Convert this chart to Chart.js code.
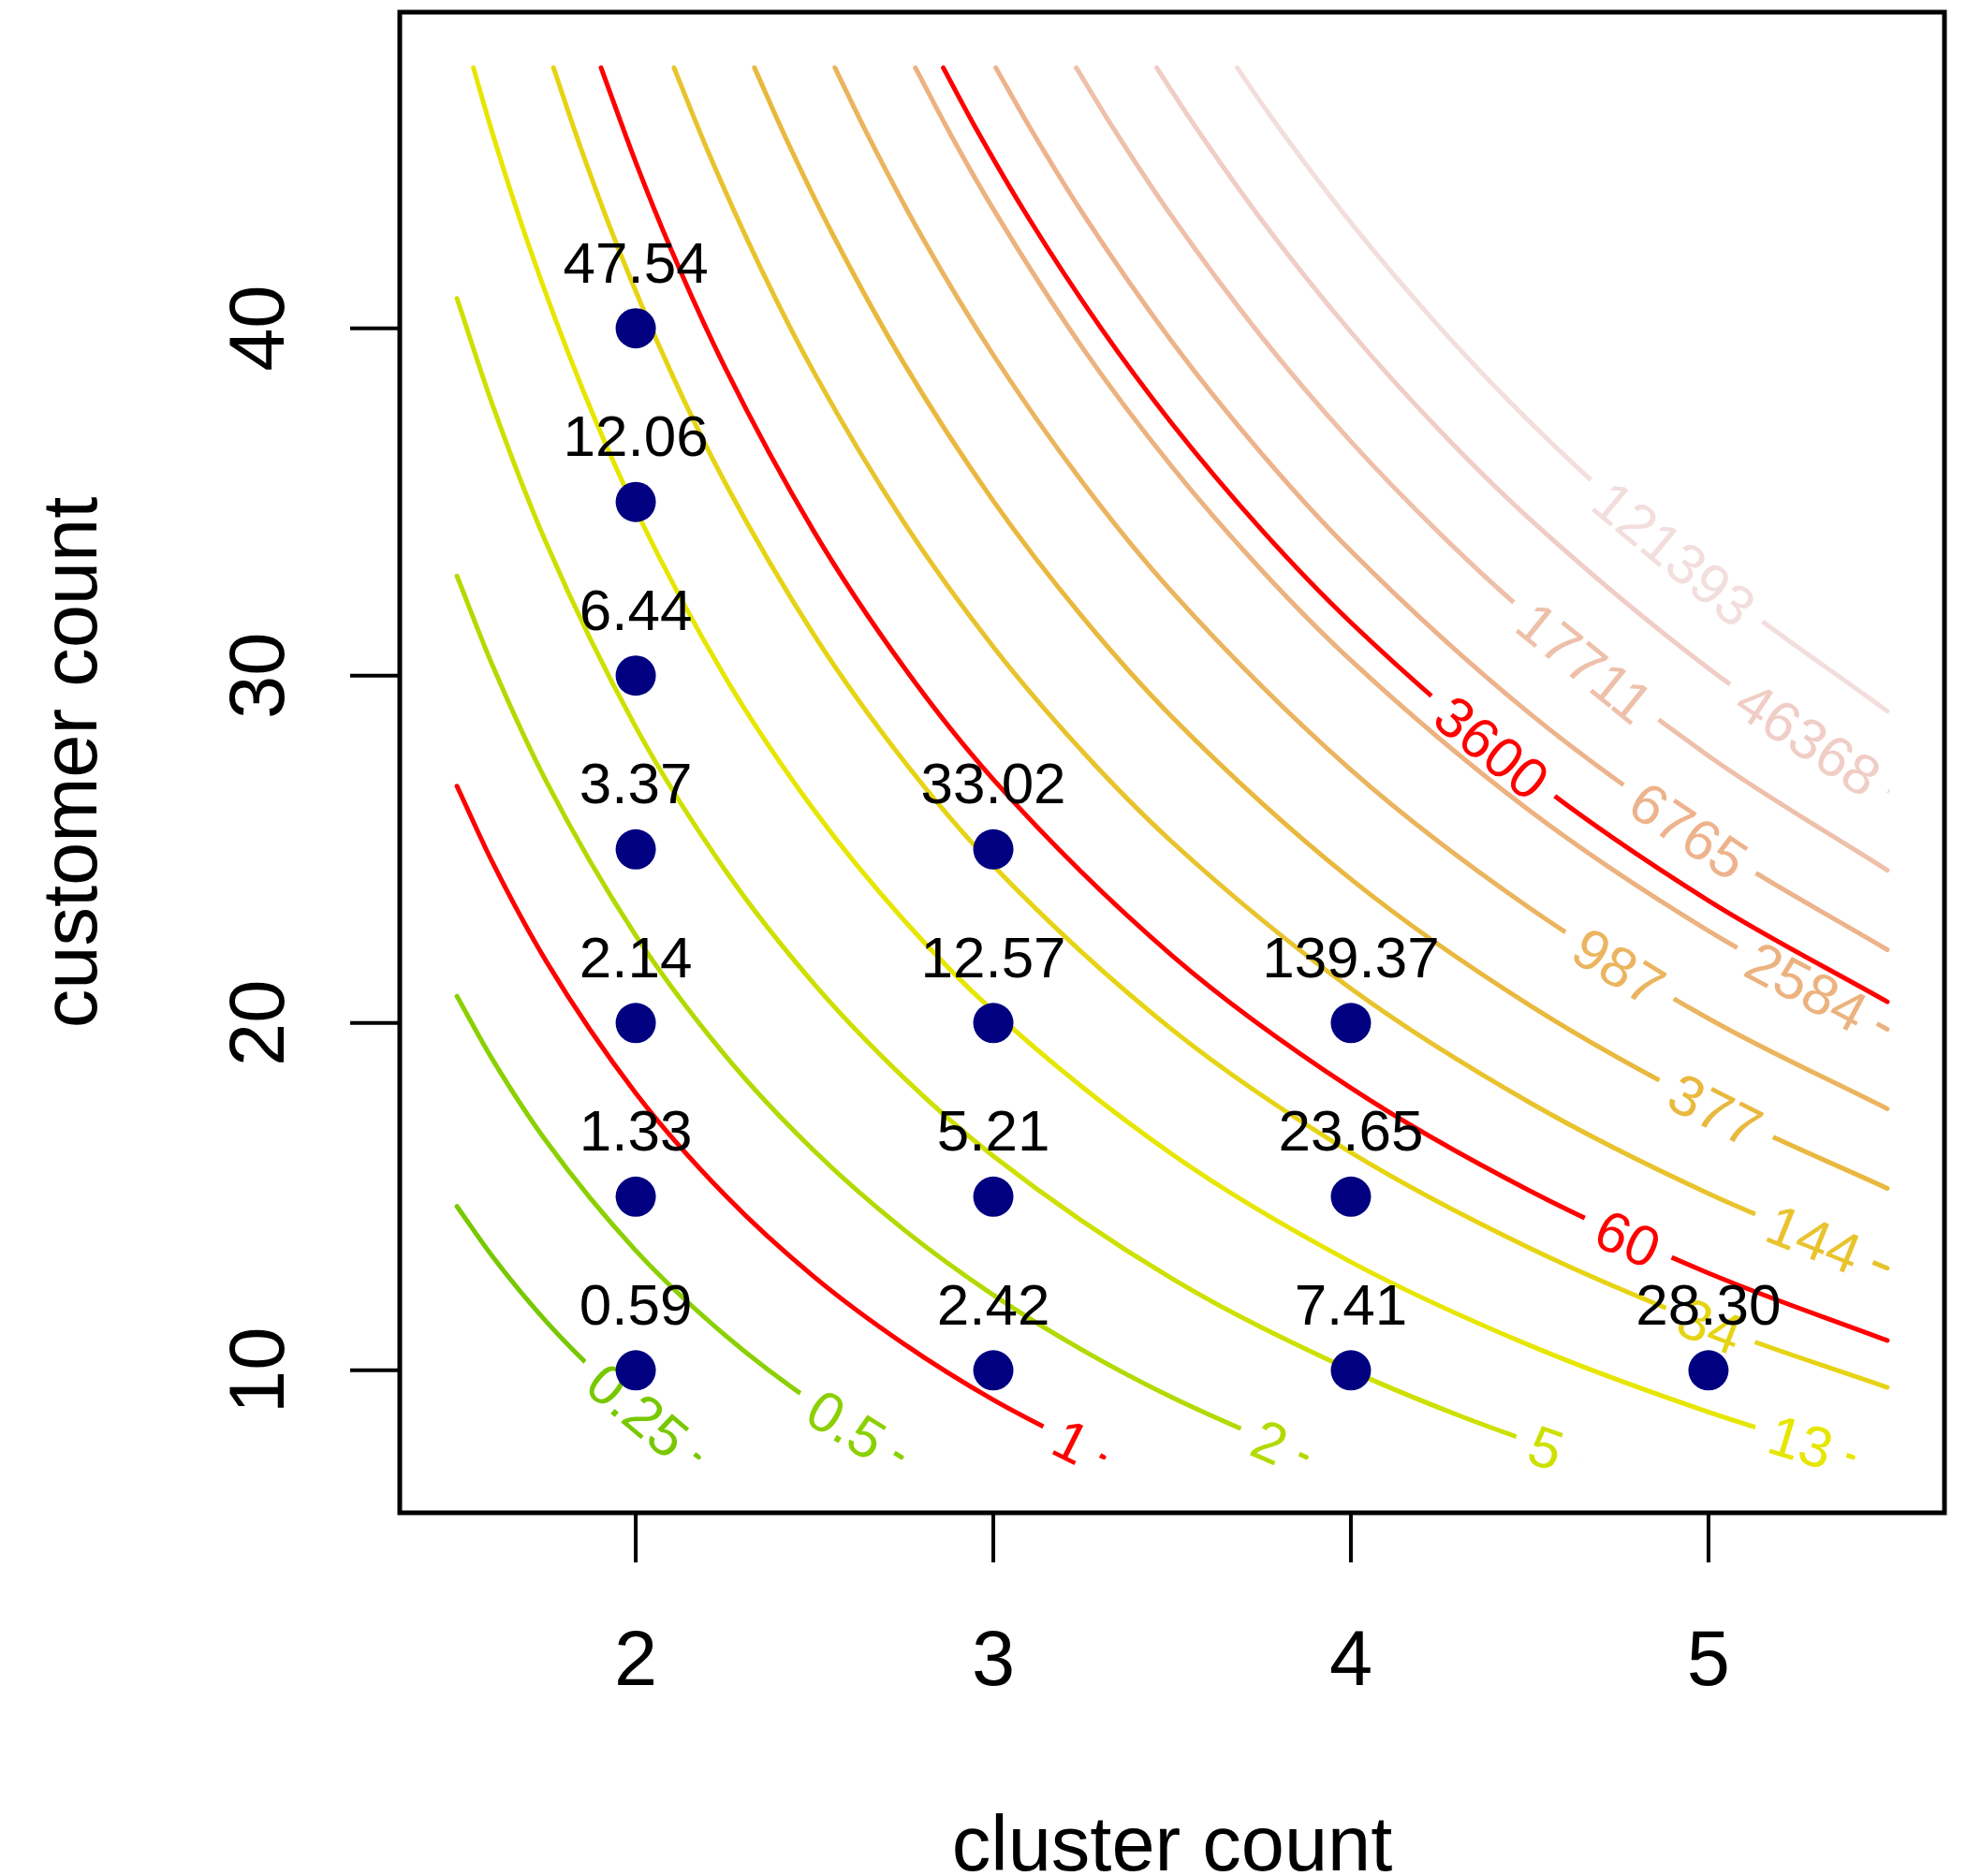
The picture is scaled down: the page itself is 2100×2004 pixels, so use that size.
<!DOCTYPE html>
<html>
<head>
<meta charset="utf-8">
<title>cluster count vs customer count</title>
<script src="https://cdn.jsdelivr.net/npm/chart.js@4.4.1/dist/chart.umd.min.js"></script>
<style>
    html, body { margin: 0; padding: 0; background: #ffffff; }
    #wrap { width: 2100px; height: 2004px; }
</style>
</head>
<body>
<div id="wrap"><canvas id="contourChart" width="2100" height="2004"></canvas></div>
<script>
/* ==========================================================
   DATA
========================================================== */
const xTicks = [2, 3, 4, 5];
const yTicks = [10, 20, 30, 40];

// labelled points
const clusterCount  = [2, 2, 2, 2, 2, 2, 2, 3, 3, 3, 3, 4, 4, 4, 5];
const customerCount = [10, 15, 20, 25, 30, 35, 40, 10, 15, 20, 25, 10, 15, 20, 10];
const cost = [0.59, 1.33, 2.14, 3.37, 6.44, 12.06, 47.54, 2.42, 5.21, 12.57, 33.02, 7.41, 23.65, 139.37, 28.30];

// contour levels and the lines, [cluster, customer]
const levels = [0.25, 0.5, 1, 2, 5, 13, 34, 60, 144, 377, 987, 2584, 3600, 6765, 17711, 46368, 121393];

const line_0_25 = [[1.5, 14.72], [1.6, 13.27], [1.75, 11.40], [1.9, 9.83], [2.05, 8.49], [2.176, 7.5]];
const line_0_5 = [[1.5, 20.77], [1.6, 18.94], [1.75, 16.59], [2.0, 13.45], [2.25, 11.01], [2.5, 9.05], [2.743, 7.5]];
const line_1 = [[1.5, 26.82], [1.6, 24.61], [1.75, 21.77], [2.0, 17.98], [2.25, 15.04], [2.5, 12.68], [2.75, 10.76], [3.0, 9.15], [3.309, 7.5]];
const line_2 = [[1.5, 32.87], [1.6, 30.28], [1.75, 26.95], [2.0, 22.52], [2.25, 19.07], [2.5, 16.31], [2.75, 14.05], [3.0, 12.17], [3.25, 10.58], [3.5, 9.22], [3.875, 7.5]];
const line_5 = [[1.5, 40.86], [1.6, 37.78], [1.75, 33.81], [2.0, 28.52], [2.25, 24.40], [2.5, 21.11], [2.75, 18.42], [3.0, 16.17], [3.5, 12.64], [4.0, 10.0], [4.3, 8.71], [4.624, 7.5]];
const line_13 = [[1.546, 47.5], [1.6, 45.59], [1.7, 42.41], [1.85, 38.28], [2.0, 34.77], [2.25, 29.96], [2.5, 26.11], [2.75, 22.96], [3.0, 20.34], [3.5, 16.22], [4.0, 13.12], [4.5, 10.72], [5.0, 8.80], [5.404, 7.5]];
const line_34 = [[1.770, 47.5], [1.85, 45.08], [1.95, 42.33], [2.1, 38.70], [2.25, 35.55], [2.5, 31.15], [2.75, 27.54], [3.0, 24.53], [3.5, 19.81], [4.0, 16.27], [4.5, 13.52], [5.0, 11.31], [5.5, 9.51]];
const line_60 = [[1.903, 47.5], [2.0, 44.78], [2.1, 42.24], [2.25, 38.86], [2.5, 34.12], [2.75, 30.24], [3.0, 27.01], [3.5, 21.94], [4.0, 18.13], [4.5, 15.17], [5.0, 12.80], [5.5, 10.86]];
const line_144 = [[2.107, 47.5], [2.2, 45.14], [2.35, 41.72], [2.5, 38.70], [2.75, 34.41], [3.0, 30.83], [3.25, 27.81], [3.5, 25.21], [4.0, 20.99], [4.5, 17.71], [5.0, 15.09], [5.5, 12.94]];
const line_377 = [[2.332, 47.5], [2.42, 45.47], [2.55, 42.72], [2.75, 38.99], [3.0, 35.03], [3.25, 31.68], [3.5, 28.81], [4.0, 24.14], [4.5, 20.51], [5.0, 17.61], [5.5, 15.24]];
const line_987 = [[2.557, 47.5], [2.65, 45.54], [2.8, 42.64], [3.0, 39.23], [3.25, 35.56], [3.5, 32.41], [4.0, 27.29], [4.5, 23.31], [5.0, 20.13], [5.5, 17.53]];
const line_2584 = [[2.782, 47.5], [2.88, 45.59], [3.0, 43.43], [3.25, 39.43], [3.5, 36.01], [3.75, 33.04], [4.0, 30.44], [4.5, 26.11], [5.0, 22.65], [5.5, 19.82]];
const line_3600 = [[2.860, 47.5], [2.95, 45.78], [3.1, 43.15], [3.3, 40.02], [3.5, 37.25], [3.75, 34.20], [4.0, 31.53], [4.5, 27.08], [5.0, 23.52], [5.5, 20.61]];
const line_6765 = [[3.007, 47.5], [3.1, 45.82], [3.25, 43.31], [3.5, 39.61], [3.75, 36.40], [4.0, 33.59], [4.5, 28.91], [5.0, 25.17], [5.5, 22.11]];
const line_17711 = [[3.232, 47.5], [3.33, 45.85], [3.5, 43.21], [3.75, 39.76], [4.0, 36.74], [4.25, 34.08], [4.5, 31.71], [5.0, 27.69], [5.5, 24.40]];
const line_46368 = [[3.457, 47.5], [3.55, 46.03], [3.75, 43.12], [4.0, 39.89], [4.25, 37.04], [4.5, 34.51], [5.0, 30.21], [5.5, 26.69]];
const line_121393 = [[3.682, 47.5], [3.78, 46.04], [4.0, 43.04], [4.25, 40.01], [4.5, 37.31], [4.75, 34.90], [5.0, 32.73], [5.5, 28.98]];

const contourLines = [line_0_25, line_0_5, line_1, line_2, line_5, line_13, line_34, line_60, line_144,
    line_377, line_987, line_2584, line_3600, line_6765, line_17711, line_46368, line_121393];

// where each level label sits along its line
const labelX = [2.006, 2.589, 3.220, 3.773, 4.545, 5.258, 5.004, 4.777, 5.295, 5.020, 4.750, 5.276, 4.395, 4.945, 4.652, 5.278, 4.904];
const labelY = [8.86, 8.45, 7.95, 7.93, 7.78, 7.95, 11.28, 13.79, 13.78, 17.51, 21.64, 21.02, 27.93, 25.54, 30.40, 28.17, 33.53];

/* ==========================================================
   STYLE
========================================================== */
const levelColors = [
    "#78c800", "#8bd000", "#ff0000", "#b2da00", "#cde000", "#e6e600",
    "#e6d414", "#ff0000", "#e8c32d", "#e9b83e", "#ebb45f", "#ecb27f",
    "#ff0000", "#edb38c", "#eec0aa", "#f0cdc6", "#f2dedc"
];

const FONT = '"Liberation Sans", Arial, Helvetica, sans-serif';
const AXIS_PX = 83;
const POINT_PX = 62;
const CONTOUR_PX = 61;
const GAP_EXTRA = 17;

/* ==========================================================
   CONTOUR LABELS (line gap + rotated text)
========================================================== */
const labelGeom = {};

function findLabelSpot(pts, tx, ty) {
    let best = null;
    for (let i = 0; i < pts.length - 1; i++) {
        const p0 = pts[i], p1 = pts[i + 1];
        const c1x = p0.cp2x ?? p0.x, c1y = p0.cp2y ?? p0.y;
        const c2x = p1.cp1x ?? p1.x, c2y = p1.cp1y ?? p1.y;
        for (let k = 0; k <= 100; k++) {
            const t = k / 100, u = 1 - t;
            const x = u * u * u * p0.x + 3 * u * u * t * c1x + 3 * u * t * t * c2x + t * t * t * p1.x;
            const y = u * u * u * p0.y + 3 * u * u * t * c1y + 3 * u * t * t * c2y + t * t * t * p1.y;
            const d = (x - tx) * (x - tx) + (y - ty) * (y - ty);
            if (!best || d < best.d) {
                const dx = 3 * u * u * (c1x - p0.x) + 6 * u * t * (c2x - c1x) + 3 * t * t * (p1.x - c2x);
                const dy = 3 * u * u * (c1y - p0.y) + 6 * u * t * (c2y - c1y) + 3 * t * t * (p1.y - c2y);
                best = { d, x, y, a: Math.atan2(dy, dx) };
            }
        }
    }
    if (best.a > Math.PI / 2) best.a -= Math.PI;
    if (best.a < -Math.PI / 2) best.a += Math.PI;
    return best;
}

const contourLabels = {
    id: "contourLabels",
    beforeDatasetDraw(chart, args) {
        const ds = chart.data.datasets[args.index];
        if (ds.level === undefined) return;
        const i = ds.level;
        const meta = args.meta;
        meta.dataset.updateControlPoints(chart.chartArea, "x");
        const g = findLabelSpot(meta.data,
            chart.scales.x.getPixelForValue(labelX[i]),
            chart.scales.y.getPixelForValue(labelY[i]));
        const ctx = chart.ctx;
        ctx.font = CONTOUR_PX + "px " + FONT;
        const hw = ctx.measureText(ds.label).width / 2 + GAP_EXTRA;
        const hh = 24;
        const c = Math.cos(g.a), s = Math.sin(g.a);
        ctx.save();
        ctx.beginPath();
        ctx.rect(0, 0, chart.width, chart.height);
        [[-hw, -hh], [hw, -hh], [hw, hh], [-hw, hh]].forEach(([u, v], k) => {
            const px = g.x + u * c - v * s, py = g.y + u * s + v * c;
            if (k === 0) ctx.moveTo(px, py); else ctx.lineTo(px, py);
        });
        ctx.closePath();
        ctx.clip("evenodd");
        labelGeom[args.index] = g;
    },
    afterDatasetDraw(chart, args) {
        const ds = chart.data.datasets[args.index];
        if (ds.level === undefined) return;
        const g = labelGeom[args.index];
        const ctx = chart.ctx;
        ctx.restore();
        ctx.save();
        ctx.translate(g.x, g.y);
        ctx.rotate(g.a);
        ctx.font = CONTOUR_PX + "px " + FONT;
        ctx.fillStyle = ds.borderColor;
        ctx.textAlign = "center";
        ctx.textBaseline = "alphabetic";
        ctx.fillText(ds.label, 0, 0.358 * CONTOUR_PX);
        ctx.restore();
    }
};

/* ==========================================================
   FRAME, AXES, POINT LABELS
========================================================== */
const frameAndText = {
    id: "frameAndText",
    afterDatasetsDraw(chart) {
        const ctx = chart.ctx;
        const area = chart.chartArea;
        const xs = chart.scales.x, ys = chart.scales.y;

        // value labels above the dots
        const dots = chart.getDatasetMeta(0).data;
        ctx.save();
        ctx.fillStyle = "#000000";
        ctx.font = POINT_PX + "px " + FONT;
        ctx.textAlign = "center";
        ctx.textBaseline = "alphabetic";
        dots.forEach((el, i) => ctx.fillText(cost[i].toFixed(2), el.x, el.y - 49));
        ctx.restore();

        // box
        ctx.save();
        ctx.strokeStyle = "#000000";
        ctx.lineWidth = 5;
        ctx.strokeRect(area.left, area.top, area.right - area.left, area.bottom - area.top);

        // ticks
        ctx.lineWidth = 4;
        ctx.beginPath();
        xTicks.forEach(v => {
            const px = xs.getPixelForValue(v);
            ctx.moveTo(px, area.bottom);
            ctx.lineTo(px, area.bottom + 53);
        });
        yTicks.forEach(v => {
            const py = ys.getPixelForValue(v);
            ctx.moveTo(area.left, py);
            ctx.lineTo(area.left - 53, py);
        });
        ctx.stroke();

        // tick labels
        ctx.fillStyle = "#000000";
        ctx.font = AXIS_PX + "px " + FONT;
        ctx.textAlign = "center";
        ctx.textBaseline = "alphabetic";
        xTicks.forEach(v => ctx.fillText(String(v), xs.getPixelForValue(v), area.bottom + 184));
        yTicks.forEach(v => {
            ctx.save();
            ctx.translate(area.left - 124, ys.getPixelForValue(v));
            ctx.rotate(-Math.PI / 2);
            ctx.fillText(String(v), 0, 0);
            ctx.restore();
        });

        // axis titles
        ctx.fillText("cluster count", (area.left + area.right) / 2, 1998);
        ctx.save();
        ctx.translate(103, (area.top + area.bottom) / 2);
        ctx.rotate(-Math.PI / 2);
        ctx.fillText("customer count", 0, 0);
        ctx.restore();
        ctx.restore();
    }
};

/* ==========================================================
   CHART
========================================================== */
const datasets = [{
    label: "points",
    data: clusterCount.map((c, i) => ({ x: c, y: customerCount[i] })),
    showLine: false,
    pointRadius: 21.5,
    pointHoverRadius: 21.5,
    pointBackgroundColor: "#000080",
    pointBorderWidth: 0,
    order: 0
}];

levels.forEach((lv, i) => {
    datasets.push({
        label: String(lv),
        level: i,
        data: contourLines[i].map(p => ({ x: p[0], y: p[1] })),
        showLine: true,
        pointRadius: 0,
        pointHoverRadius: 0,
        borderColor: levelColors[i],
        borderWidth: 5,
        borderCapStyle: "round",
        borderJoinStyle: "round",
        cubicInterpolationMode: "monotone",
        fill: false,
        order: 1
    });
});

const ctx = document.getElementById("contourChart").getContext("2d");
new Chart(ctx, {
    type: "line",
    data: { datasets },
    options: {
        responsive: false,
        devicePixelRatio: 1,
        animation: false,
        events: [],
        layout: {
            autoPadding: false,
            padding: { left: 427, right: 23, top: 13, bottom: 388 }
        },
        plugins: {
            legend: { display: false },
            tooltip: { enabled: false }
        },
        scales: {
            x: { type: "linear", min: 1.34, max: 5.66, display: false },
            y: { type: "linear", min: 5.9, max: 49.1, display: false }
        }
    },
    plugins: [contourLabels, frameAndText]
});
</script>
</body>
</html>
